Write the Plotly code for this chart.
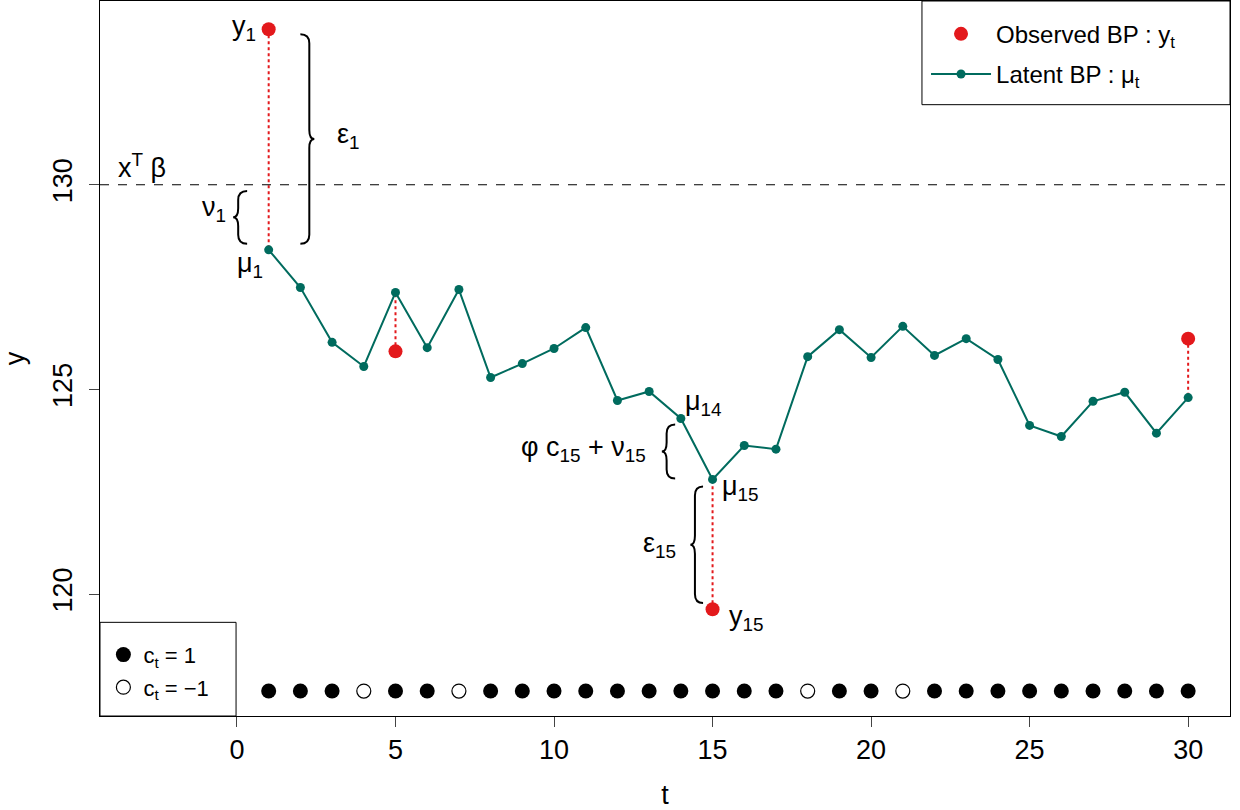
import plotly.graph_objects as go

# ---- data ----
t = list(range(1, 31))
mu = [128.41, 127.49, 126.15, 125.56, 127.37, 126.02, 127.44, 125.29, 125.63, 126.00,
      126.51, 124.73, 124.95, 124.29, 122.80, 123.63, 123.54, 125.80, 126.46, 125.78,
      126.54, 125.83, 126.24, 125.73, 124.12, 123.85, 124.71, 124.93, 123.93, 124.80]
obs_t = [1, 5, 15, 30]
obs_y = [133.80, 125.93, 119.63, 126.24]
c = [1, 1, 1, -1, 1, 1, -1, 1, 1, 1, 1, 1, 1, 1, 1, 1, 1, -1, 1, 1,
     -1, 1, 1, 1, 1, 1, 1, 1, 1, 1]
c_level = 117.63
xtb = 130.0
x_range = [-4.32, 31.32]
y_range = [117.02, 134.49]
x_ticks = [0, 5, 10, 15, 20, 25, 30]
y_ticks = [120, 125, 130]

TEAL = "#006B5E"
RED = "#E3191C"
FONT = "Liberation Sans, Arial, sans-serif"
FS = 24
AFS = 27

fig = go.Figure()

# dotted red links between observed and latent
lx, ly = [], []
for tt, yy in zip(obs_t, obs_y):
    lx += [tt, tt, None]
    ly += [yy, mu[tt - 1], None]
fig.add_trace(go.Scatter(x=lx, y=ly, mode="lines", line=dict(color=RED, width=2, dash="dot"),
                         showlegend=False, hoverinfo="skip"))

fig.add_trace(go.Scatter(x=t, y=mu, mode="lines+markers", name="Latent BP : μ<sub>t</sub>",
                         line=dict(color=TEAL, width=2), marker=dict(color=TEAL, size=9),
                         legendgroup="b", legendrank=2))
fig.add_trace(go.Scatter(x=obs_t, y=obs_y, mode="markers", name="Observed BP : y<sub>t</sub>",
                         marker=dict(color=RED, size=14), legendgroup="a", legendrank=1))

tp = [ti for ti, ci in zip(t, c) if ci == 1]
tn = [ti for ti, ci in zip(t, c) if ci == -1]
fig.add_trace(go.Scatter(x=tp, y=[c_level] * len(tp), mode="markers", name="c<sub>t</sub> = 1",
                         marker=dict(color="black", size=15), legend="legend2",
                         legendgroup="c", legendrank=1))
fig.add_trace(go.Scatter(x=tn, y=[c_level] * len(tn), mode="markers", name="c<sub>t</sub> = \u22121",
                         marker=dict(color="white", size=14, line=dict(color="black", width=1.2)),
                         legend="legend2", legendgroup="d", legendrank=2))

# dashed reference line x^T beta
fig.add_shape(type="line", xref="paper", x0=0, x1=1, yref="y", y0=xtb, y1=xtb,
              line=dict(color="black", width=1.2, dash="dash"))

# legend frames
fig.add_shape(type="rect", xref="paper", yref="paper", x0=0.7274, x1=1, y0=0.855, y1=1,
              line=dict(color="black", width=1), fillcolor="rgba(0,0,0,0)", layer="above")
fig.add_shape(type="rect", xref="paper", yref="paper", x0=0, x1=0.1204, y0=0, y1=0.131,
              line=dict(color="black", width=1), fillcolor="rgba(0,0,0,0)", layer="above")


def brace(x, ya, yb, w, h):
    xs = x + 0.64 * w
    ym = (ya + yb) / 2
    return (f"M {x},{ya} Q {xs},{ya} {xs},{ya + h} L {xs},{ym - h} "
            f"Q {xs},{ym} {x + w},{ym} Q {xs},{ym} {xs},{ym + h} "
            f"L {xs},{yb - h} Q {xs},{yb} {x},{yb}")


braces = [
    (2.0, mu[0] + 0.15, obs_y[0] - 0.12, 0.44),
    (0.32, mu[0] + 0.15, xtb - 0.15, -0.44),
    (13.82, mu[14] + 0.02, mu[13] - 0.15, -0.42),
    (14.7, obs_y[2] + 0.15, mu[14] - 0.17, -0.40),
]
for bx, ya, yb, w in braces:
    fig.add_shape(type="path", path=brace(bx, ya, yb, w, 0.22), xref="x", yref="y",
                  line=dict(color="black", width=2))

labels = [
    (0.65, obs_y[0] + 0.03, "y<sub>1</sub>", "right"),
    (-0.07, mu[0] - 0.38, "μ<sub>1</sub>", "left"),
    (3.09, 131.18, "ε<sub>1</sub>", "left"),
    (-3.8, 130.45, "x<sup>T</sup> β", "left"),
    (-0.28, 129.4, "ν<sub>1</sub>", "right"),
    (14.07, mu[13] + 0.37, "μ<sub>14</sub>", "left"),
    (12.97, 123.55, "φ c<sub>15</sub> + ν<sub>15</sub>", "right"),
    (15.24, mu[14] - 0.21, "μ<sub>15</sub>", "left"),
    (13.9, 121.2, "ε<sub>15</sub>", "right"),
    (15.46, obs_y[2] - 0.22, "y<sub>15</sub>", "left"),
]
for lxp, lyp, txt, anc in labels:
    fig.add_annotation(x=lxp, y=lyp, text=txt, showarrow=False, xanchor=anc, yanchor="middle",
                       font=dict(family=FONT, size=AFS, color="black"))

fig.update_layout(
    width=1240, height=810,
    margin=dict(l=100, r=10, t=1, b=94, autoexpand=False),
    paper_bgcolor="white", plot_bgcolor="white",
    font=dict(family=FONT, size=FS, color="black"),
    showlegend=True,
    legend=dict(x=0.731, y=0.985, xanchor="left", yanchor="top", bgcolor="rgba(0,0,0,0)",
                borderwidth=0, font=dict(size=FS), itemwidth=60,
                traceorder="grouped", tracegroupgap=6, itemsizing="trace"),
    legend2=dict(x=0.003, y=0.115, xanchor="left", yanchor="top", bgcolor="rgba(0,0,0,0)",
                 borderwidth=0, font=dict(size=22),
                 traceorder="grouped", tracegroupgap=1),
    xaxis=dict(range=x_range, tickvals=x_ticks, ticks="outside", ticklen=10, tickwidth=1,
               showgrid=False, zeroline=False, showline=True, mirror=True, linecolor="black",
               linewidth=1, title=dict(text="t", font=dict(size=AFS), standoff=24),
               tickfont=dict(size=27)),
    yaxis=dict(range=y_range, tickvals=y_ticks, ticks="outside", ticklen=10, tickwidth=1,
               showgrid=False, zeroline=False, showline=True, mirror=True, linecolor="black",
               linewidth=1, tickangle=-90, ticklabelstandoff=6,
               title=dict(text="y", font=dict(size=AFS), standoff=26),
               tickfont=dict(size=27)),
)

fig.write_html("out.html", config={"displayModeBar": False},
               post_script="document.body.style.margin='0';")
